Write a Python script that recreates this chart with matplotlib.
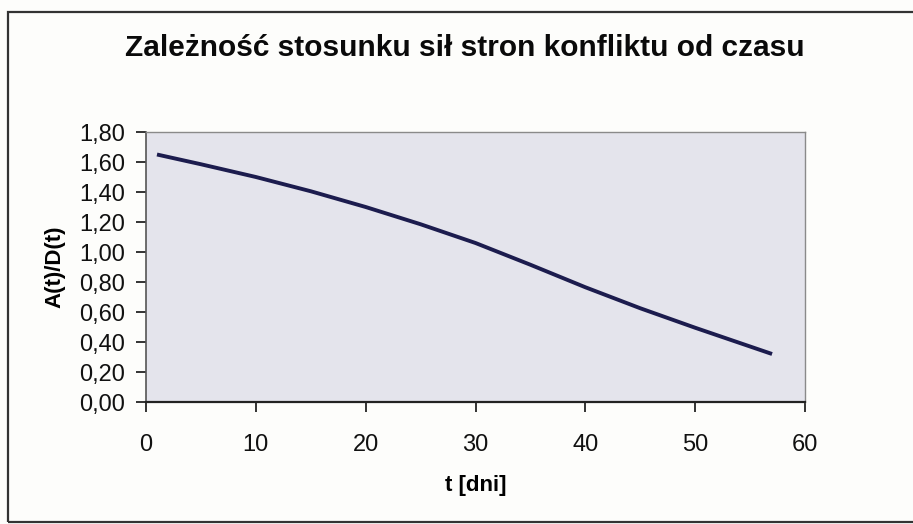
import matplotlib
matplotlib.use('Agg')
import matplotlib.pyplot as plt
from matplotlib.patches import Rectangle
from matplotlib.ticker import FuncFormatter

# values
t_days = [1, 5, 10, 15, 20, 25, 30, 35, 40, 45, 50, 55, 57]
ratio = [1.65, 1.585, 1.50, 1.405, 1.30, 1.185, 1.06, 0.915, 0.765, 0.625, 0.495, 0.37, 0.32]
x_ticks = [0, 10, 20, 30, 40, 50, 60]
y_ticks = [0.0, 0.2, 0.4, 0.6, 0.8, 1.0, 1.2, 1.4, 1.6, 1.8]

plt.rcParams['font.family'] = ['Liberation Sans', 'DejaVu Sans']

fig = plt.figure(figsize=(9.13, 5.24), dpi=100)
fig.patch.set_facecolor('#fdfdfb')

# outer chart frame (right edge is cut off in the scan)
fig.add_artist(Rectangle((8 / 913, 2 / 524), 1.2, 510 / 524, transform=fig.transFigure,
                         fill=False, edgecolor='#333333', linewidth=1.6))

ax = fig.add_axes([146 / 913, 1 - 402 / 524, 659 / 913, 270 / 524])
ax.set_facecolor('#e4e4ec')

ax.plot(t_days, ratio, color='#1c1c4e', linewidth=2.8, solid_capstyle='butt')

ax.set_xlim(0, 60)
ax.set_ylim(0, 1.8)
ax.set_xticks(x_ticks)
ax.set_yticks(y_ticks)
ax.yaxis.set_major_formatter(FuncFormatter(lambda v, p: f'{v:.2f}'.replace('.', ',')))

for side in ['top', 'right']:
    ax.spines[side].set_color('#8a8a8a')
    ax.spines[side].set_linewidth(1.0)
ax.spines['left'].set_color('#555555')
ax.spines['bottom'].set_color('#222222')
ax.spines['left'].set_linewidth(1.2)
ax.spines['bottom'].set_linewidth(1.6)

ax.tick_params(axis='y', direction='out', length=7, width=1.2, pad=8,
               labelsize=17, colors='#111111')
ax.tick_params(axis='x', direction='out', length=7, width=1.2, pad=16,
               labelsize=17, colors='#111111')

ax.set_xlabel('t [dni]', fontsize=16, fontweight='bold', labelpad=14)
ax.set_ylabel('A(t)/D(t)', fontsize=16, fontweight='bold', labelpad=10)

fig.text(465 / 913, 1 - 48 / 524, 'Zależność stosunku sił stron konfliktu od czasu',
         ha='center', va='center', fontsize=21.5, fontweight='bold', color='#0a0a0a')

fig.savefig('out.png', dpi=100, facecolor=fig.get_facecolor())
